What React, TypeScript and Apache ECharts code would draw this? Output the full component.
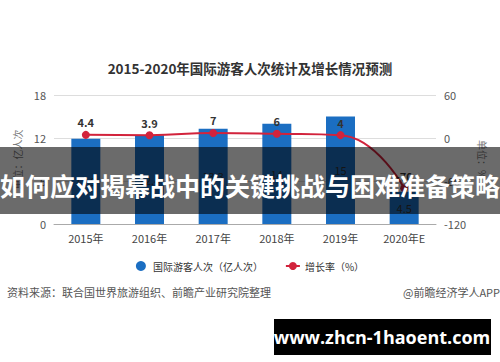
import React, { useEffect, useRef } from "react";
import * as echarts from "echarts";

const categories = ["2015年", "2016年", "2017年", "2018年", "2019年", "2020年E"];
const arrivals = [11.9, 12.4, 13.3, 14, 15, 4.5];
const growth = [4.4, 3.9, 7, 6, 4, -70];
const leftTicks = { min: 0, max: 18, interval: 6 };
const rightTicks = { min: -120, max: 60, interval: 60 };

const FONT = "'Noto Sans CJK SC', 'Noto Sans', sans-serif";

export default function App() {
  const ref = useRef<HTMLDivElement>(null);
  useEffect(() => {
    if (!ref.current) return;
    const chart = echarts.init(ref.current, null, { renderer: "svg" });
    chart.setOption({
      animation: false,
      backgroundColor: "#ffffff",
      textStyle: { fontFamily: FONT },
      title: {
        text: "2015-2020年国际游客人次统计及增长情况预测",
        left: "center",
        top: 56,
        textStyle: { fontSize: 13.5, fontWeight: "bold", color: "#333", fontFamily: FONT },
      },
      legend: {
        bottom: 86,
        left: "center",
        itemGap: 22,
        itemWidth: 14,
        itemHeight: 10,
        textStyle: { fontSize: 10, color: "#333", fontFamily: FONT },
        data: [
          { name: "国际游客人次（亿人次）", icon: "circle" },
          { name: "增长率（%）" },
        ],
      },
      grid: { left: 54, right: 64, top: 95, bottom: 138 },
      xAxis: {
        type: "category",
        data: categories,
        axisLine: { lineStyle: { color: "#aaa" } },
        axisTick: { alignWithLabel: true, length: 4, lineStyle: { color: "#aaa" } },
        axisLabel: { color: "#444", fontSize: 11, margin: 8 },
      },
      yAxis: [
        {
          type: "value",
          ...leftTicks,
          name: "单位：亿人次",
          nameLocation: "middle",
          nameRotate: 90,
          nameGap: 30,
          nameTextStyle: { color: "#777", fontSize: 10 },
          axisLine: { show: false },
          axisTick: { show: false },
          axisLabel: { color: "#555", fontSize: 11, margin: 8 },
          splitLine: { lineStyle: { color: "#ddd" } },
        },
        {
          type: "value",
          ...rightTicks,
          name: "单位：%",
          nameLocation: "middle",
          nameRotate: -90,
          nameGap: 38,
          nameTextStyle: { color: "#777", fontSize: 10 },
          axisLine: { show: false },
          axisTick: { show: false },
          axisLabel: { color: "#555", fontSize: 11, margin: 8 },
          splitLine: { show: false },
        },
      ],
      series: [
        {
          name: "国际游客人次（亿人次）",
          type: "bar",
          data: arrivals,
          barWidth: 29,
          itemStyle: { color: "#1b6ec2" },
          label: { show: true, position: "inside", color: "#333", fontSize: 11 },
        },
        {
          name: "增长率（%）",
          type: "line",
          yAxisIndex: 1,
          data: growth,
          smooth: true,
          symbol: "circle",
          symbolSize: 8,
          lineStyle: { color: "#d2233c", width: 2 },
          itemStyle: { color: "#d2233c" },
          label: { show: true, position: "top", distance: 3, color: "#333", fontSize: 11, fontWeight: "bold" },
        },
      ],
      graphic: [
        {
          type: "text",
          left: 7,
          top: 286,
          style: { text: "资料来源：联合国世界旅游组织、前瞻产业研究院整理", fill: "#555", fontSize: 11, fontFamily: FONT },
        },
        {
          type: "text",
          right: 0,
          top: 286,
          style: { text: "@前瞻经济学人APP", fill: "#555", fontSize: 11, fontFamily: FONT },
        },
        {
          type: "rect",
          shape: { x: 0, y: 147, width: 500, height: 67 },
          style: { fill: "rgba(0,0,0,0.58)" },
          z: 100,
        },
        {
          type: "text",
          x: 250,
          y: 185,
          z: 101,
          style: {
            text: "如何应对揭幕战中的关键挑战与困难准备策略",
            fill: "#ffffff",
            fontSize: 25,
            fontWeight: "bold",
            fontFamily: FONT,
            align: "center",
            verticalAlign: "middle",
          },
        },
        {
          type: "rect",
          shape: { x: 274, y: 319, width: 217, height: 36 },
          style: { fill: "#000000" },
          z: 100,
        },
        {
          type: "text",
          x: 382,
          y: 337,
          z: 101,
          style: {
            text: "www.zhcn-1haoent.com",
            fill: "#ffffff",
            fontSize: 18,
            fontWeight: "bold",
            fontFamily: "'Open Sans', 'DejaVu Sans', sans-serif",
            align: "center",
            verticalAlign: "middle",
          },
        },
      ],
    });
    return () => chart.dispose();
  }, []);
  return <div ref={ref} style={{ position: "absolute", left: 0, top: 0, width: 500, height: 362 }} />;
}
